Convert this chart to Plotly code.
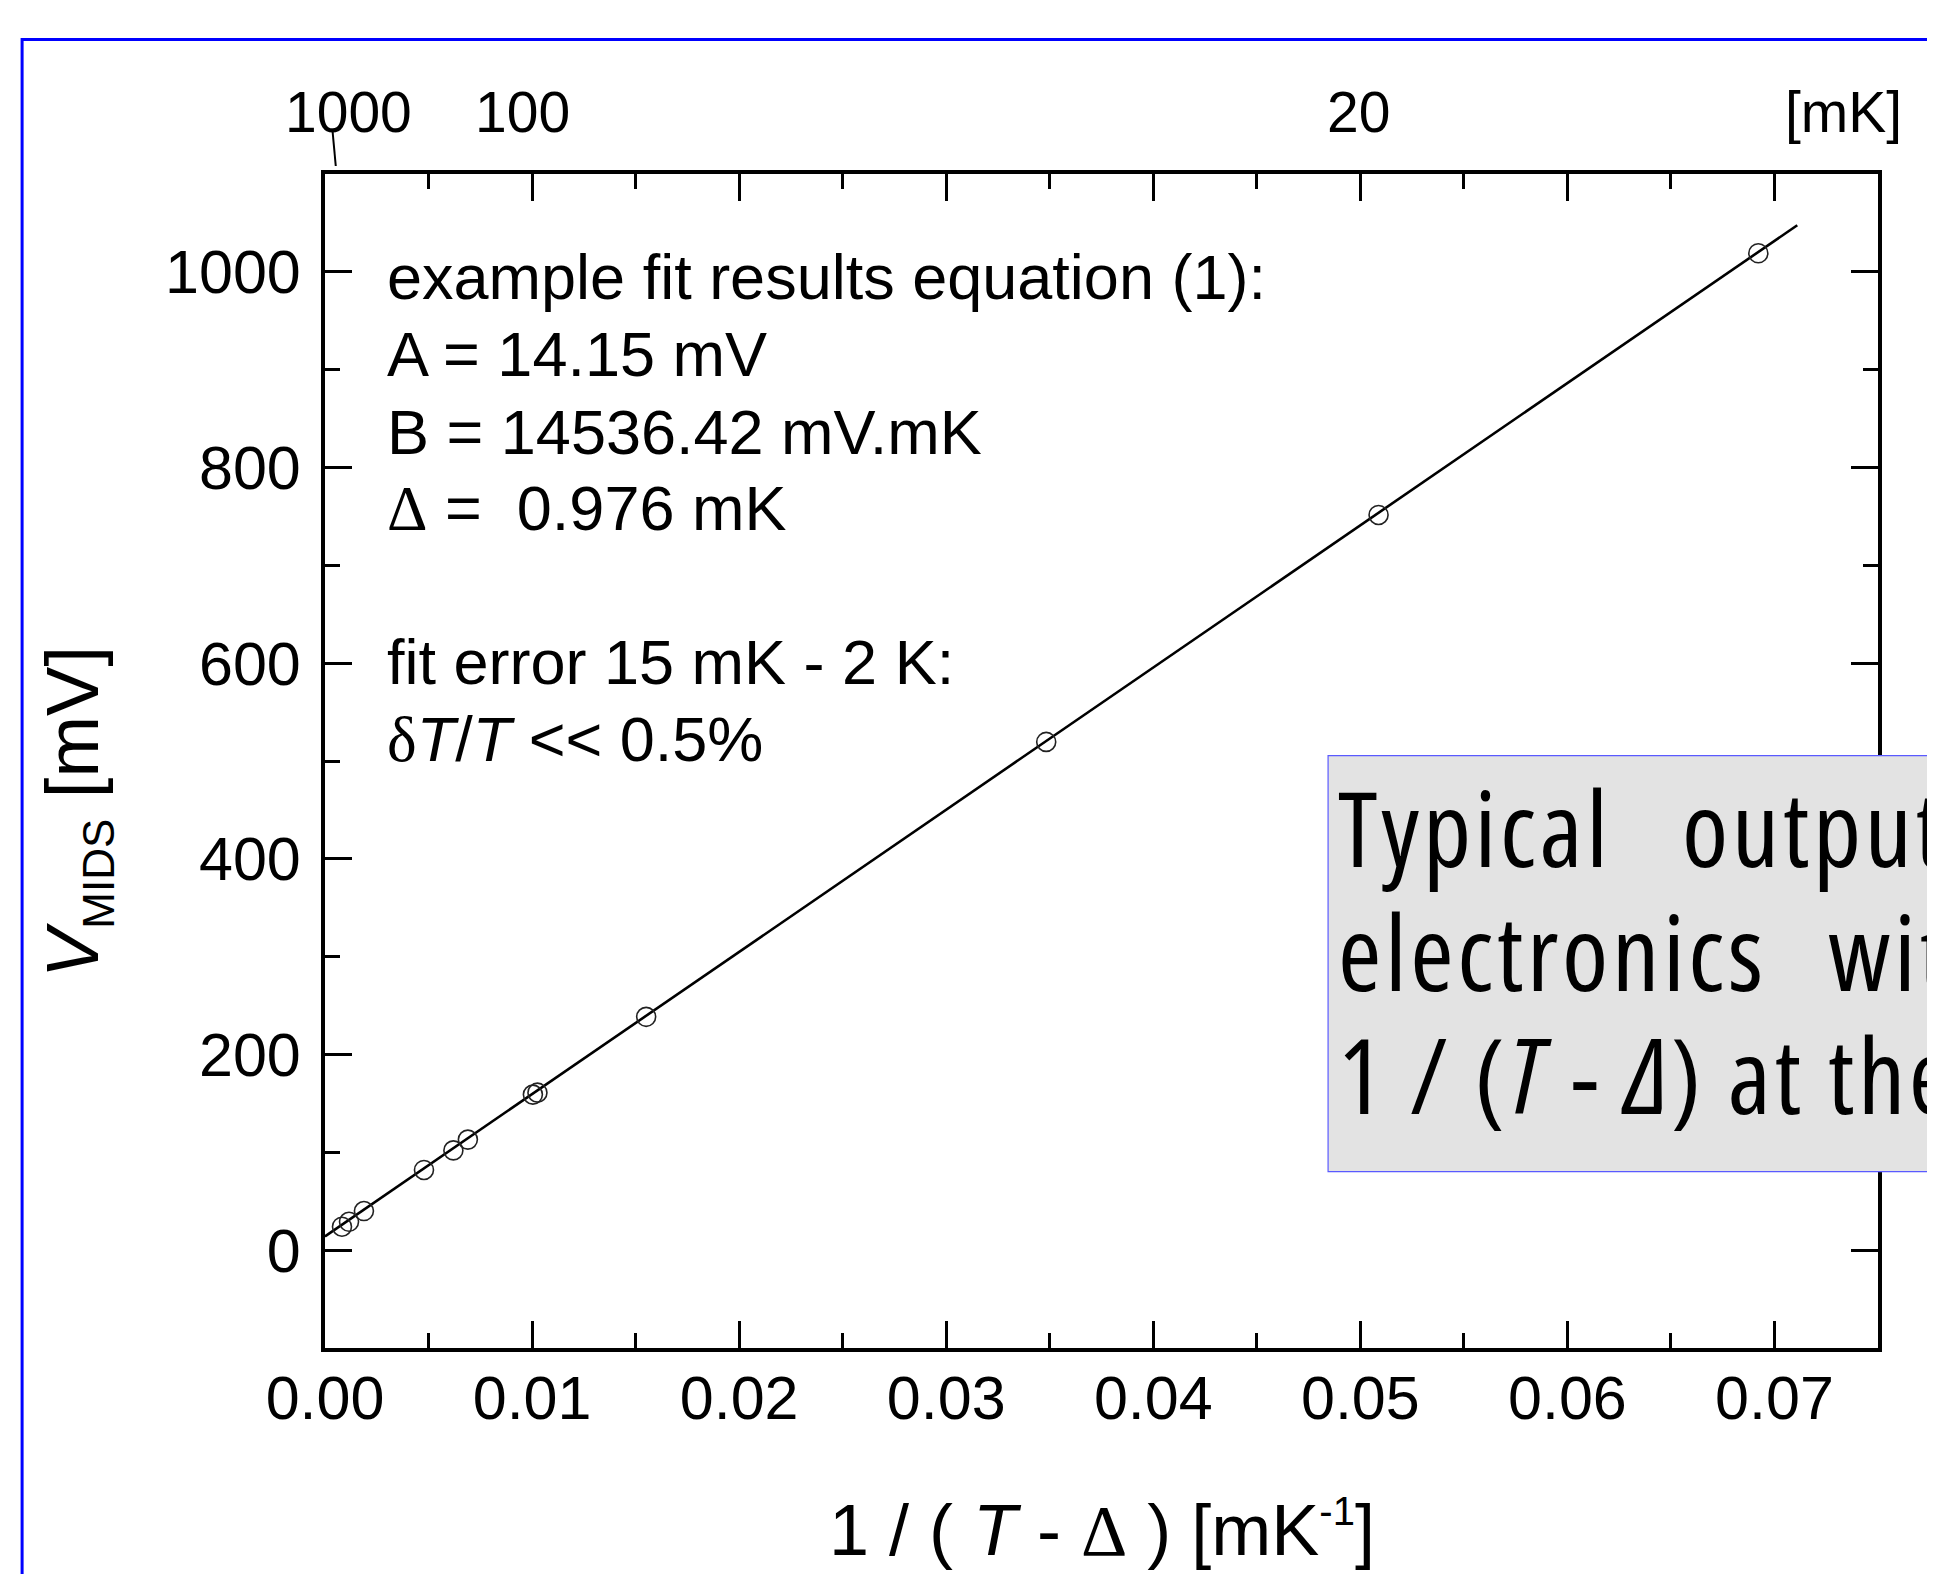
import plotly.graph_objects as go

# ---------------- data ----------------
inv_T = [0.00082, 0.00116, 0.00188, 0.00478, 0.0062, 0.0069, 0.01004, 0.01026,
         0.01551, 0.03483, 0.05088, 0.06922]
V_mids = [24, 29, 40, 82, 102, 113, 159, 161, 238.5, 519.5, 751.5, 1019]

fit_x = [0.0, 0.0711]
fit_y = [14.15, 1047.6]

top_labels = ["1000", "100", "20", "[mK]"]
top_label_x = [0.00114, 0.00952, 0.04991, 0.07331]
top_marker_x = [0.00036, 0.00052]

fit_text = [
    "example fit results equation (1):",
    "A = 14.15 mV",
    "B = 14536.42 mV.mK",
    "<span style='font-family:Liberation Serif'>Δ</span> =  0.976 mK",
    "fit error 15 mK - 2 K:",
    "<span style='font-family:Liberation Serif'>δ</span><i>T</i>/<i>T</i> << 0.5%",
]

# ---------------- geometry helpers (screen px -> paper) ----------------
OFF = 8                      # body margin of the html page
W, H = 1935 - 2 * OFF, 1582 - 2 * OFF
Lf, Rf, Tf, Bf = 325 - OFF, 1878.5 - OFF, 174 - OFF, 1348 - OFF


def px(xs):
    return (xs - OFF - Lf) / (Rf - Lf)


def py(ys):
    return (Bf - (ys - OFF)) / (Bf - Tf)


SANS = "Liberation Sans, Arial, Helvetica, sans-serif"
NARROW = "Open Sans"

fig = go.Figure()
fig.add_trace(go.Scatter(x=fit_x, y=fit_y, mode="lines",
                         line=dict(color="black", width=2.6), showlegend=False))
fig.add_trace(go.Scatter(x=inv_T, y=V_mids, mode="markers",
                         marker=dict(symbol="circle-open", size=19, color="#222222",
                                     line=dict(color="#222222", width=1.6)),
                         showlegend=False))

axis_common = dict(
    showline=True, linecolor="black", linewidth=4, mirror="ticks",
    ticks="inside", ticklen=27, tickwidth=3, tickcolor="black",
    showgrid=False, zeroline=False,
    tickfont=dict(family=SANS, size=61, color="black"),
)

fig.update_xaxes(range=[0, 0.075], tickmode="linear", tick0=0, dtick=0.01,
                 tickformat=".2f", ticklabelstandoff=-6,
                 minor=dict(ticks="inside", tick0=0, dtick=0.005, ticklen=15,
                            tickwidth=3, tickcolor="black"),
                 **axis_common)
fig.update_yaxes(range=[-100, 1100], tickmode="linear", tick0=0, dtick=200,
                 ticklabelstandoff=8,
                 minor=dict(ticks="inside", tick0=0, dtick=100, ticklen=15,
                            tickwidth=3, tickcolor="black"),
                 **axis_common)

annotations = []
# fit results text block
baselines = [298.4, 375.6, 453.5, 530, 684.3, 761.5]
fs_block = 63
for txt, bl in zip(fit_text, baselines):
    annotations.append(dict(xref="paper", yref="paper", x=px(385), y=py(bl - 0.3465 * fs_block),
                            xanchor="left", yanchor="middle", showarrow=False, text=txt,
                            font=dict(family=SANS, size=fs_block, color="black")))

# top temperature scale labels
fs_top = 57
for lab, xv in zip(top_labels, top_label_x):
    annotations.append(dict(xref="x", yref="paper", x=xv, y=py(131.7 - 0.3465 * fs_top),
                            xanchor="center", yanchor="middle", showarrow=False, text=lab,
                            font=dict(family=SANS, size=fs_top, color="black")))

# axis titles
fs_title = 72
annotations.append(dict(xref="paper", yref="paper", x=px(1102.5), y=py(1555 - 0.3465 * fs_title),
                        xanchor="center", yanchor="middle", showarrow=False,
                        text="1 / ( <i>T</i> - <span style='font-family:Liberation Serif'>Δ</span> ) [mK<sup><span style='font-size:40px'>-1</span></sup>]",
                        font=dict(family=SANS, size=fs_title, color="black")))
annotations.append(dict(xref="paper", yref="paper", x=px(77), y=py(812),
                        xanchor="center", yanchor="middle", showarrow=False, textangle=-90,
                        text="<i>V</i><sub><span style='font-size:44px'>MIDS</span></sub> [mV]",
                        font=dict(family=SANS, size=74, color="black")))

# gray box text (condensed face of Open Sans)
fs_box = 105
box_words = [
    ("Typical", 1338.5, 863.3),
    ("output", 1682.7, 863.3),
    ("electronics", 1338.5, 986.7),
    ("with", 1828.5, 986.7),
    ("1 / (<i>T</i> - <i>Δ</i>) at the", 1338.5, 1110),
]
for txt, xl, bl in box_words:
    annotations.append(dict(xref="paper", yref="paper", x=px(xl - 2), y=py(bl - 0.3465 * fs_box),
                            xanchor="left", yanchor="middle", showarrow=False,
                            text="<span style='font-stretch:75%;letter-spacing:3.6px'>" + txt + "</span>",
                            font=dict(family=NARROW, size=fs_box, color="black")))

shapes = [
    # blue outer frame
    dict(type="rect", xref="paper", yref="paper", x0=px(22), x1=px(2100), y0=py(1700), y1=py(39.5),
         line=dict(color="#0000ff", width=3), fillcolor="rgba(0,0,0,0)", layer="above"),
    # gray info box
    dict(type="rect", xref="paper", yref="paper", x0=px(1328.4), x1=px(2100), y0=py(1171.7), y1=py(755.7),
         line=dict(color="#5a5aff", width=1.2), fillcolor="#e3e3e3", layer="above"),
    # small connector under "1000"
    dict(type="line", xref="x", yref="paper", x0=top_marker_x[0], x1=top_marker_x[1],
         y0=py(130), y1=py(166), line=dict(color="black", width=2)),
]

fig.update_layout(
    width=W, height=H,
    margin=dict(l=Lf, r=W - Rf, t=Tf, b=H - Bf, pad=0),
    paper_bgcolor="white", plot_bgcolor="white",
    annotations=annotations, shapes=shapes,
    showlegend=False,
)

fig.write_html("out.html")
